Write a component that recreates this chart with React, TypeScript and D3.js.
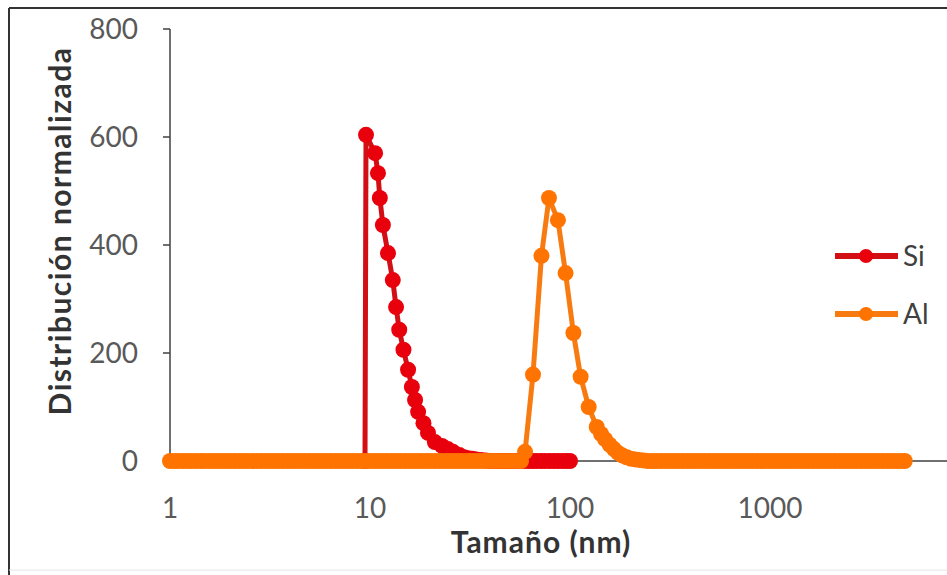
import React from "react";
import * as d3 from "d3";

// [size nm, normalized distribution]
const siData: [number, number][] = [
  [9.44, 0], [9.55, 604], [10.6, 570], [10.96, 533], [11.2, 487], [11.6, 437], [12.3, 385], [13.0, 335],
  [13.5, 285], [14.0, 243], [14.7, 206], [15.5, 169], [16.2, 137], [16.8, 113], [17.4, 91], [18.5, 70],
  [19.5, 52], [21.1, 35], [22.9, 28], [24.5, 22], [26, 17], [28, 11], [29.5, 7], [31, 5], [32.5, 4],
  [34, 3], [36, 2], [38, 1], [40, 0], [42, 0], [44, 0], [46, 0], [48.5, 0], [51, 0], [53.5, 0], [56, 0],
  [59, 0], [62, 0], [65, 0], [68, 0], [71.5, 0], [75, 0], [79, 0], [83, 0], [87, 0], [91.5, 0], [96, 0], [100, 0],
];

const alData: [number, number][] = [
  [1, 0], [1.05, 0], [1.1, 0], [1.16, 0], [1.22, 0], [1.28, 0], [1.35, 0], [1.42, 0], [1.49, 0], [1.57, 0],
  [1.65, 0], [1.73, 0], [1.82, 0], [1.91, 0], [2.01, 0], [2.11, 0], [2.22, 0], [2.33, 0], [2.45, 0], [2.58, 0],
  [2.71, 0], [2.85, 0], [3.0, 0], [3.15, 0], [3.31, 0], [3.48, 0], [3.66, 0], [3.85, 0], [4.05, 0], [4.26, 0],
  [4.48, 0], [4.71, 0], [4.95, 0], [5.2, 0], [5.47, 0], [5.75, 0], [6.05, 0], [6.36, 0], [6.69, 0], [7.03, 0],
  [7.39, 0], [7.77, 0], [8.17, 0], [8.59, 0], [9.03, 0], [9.5, 0], [9.99, 0], [10.5, 0], [11.04, 0], [11.6, 0],
  [12.2, 0], [12.83, 0], [13.49, 0], [14.18, 0], [14.91, 0], [15.68, 0], [16.48, 0], [17.33, 0], [18.22, 0],
  [19.16, 0], [20.14, 0], [21.18, 0], [22.26, 0], [23.41, 0], [24.61, 0], [25.88, 0], [27.21, 0], [28.6, 0],
  [30.07, 0], [31.62, 0], [33.25, 0], [34.96, 0], [36.75, 0], [38.64, 0], [40.63, 0], [42.72, 0], [44.91, 0],
  [47.22, 0], [49.65, 0], [52.2, 0], [54.89, 0], [56.9, 0],
  [59.6, 17], [65.3, 160], [72, 380], [78.5, 487], [87, 446], [95, 348], [104, 237], [113, 156], [124, 100],
  [136, 63], [143, 50], [150, 40], [158, 30], [166, 22], [174, 15], [183, 10], [192, 7], [202, 4], [212, 3],
  [222, 2], [233, 1],
  [245, 0], [258, 0], [271, 0], [285, 0], [300, 0], [315, 0], [331, 0], [348, 0], [366, 0], [385, 0], [405, 0],
  [426, 0], [448, 0], [471, 0], [495, 0], [520, 0], [547, 0], [575, 0], [605, 0], [636, 0], [668, 0], [703, 0],
  [739, 0], [777, 0], [817, 0], [859, 0], [903, 0], [949, 0], [998, 0], [1049, 0], [1103, 0], [1160, 0],
  [1220, 0], [1282, 0], [1348, 0], [1418, 0], [1490, 0], [1567, 0], [1648, 0], [1732, 0], [1821, 0], [1915, 0],
  [2013, 0], [2117, 0], [2226, 0], [2340, 0], [2460, 0], [2587, 0], [2720, 0], [2860, 0], [3006, 0], [3161, 0],
  [3323, 0], [3494, 0], [3674, 0], [3862, 0], [4061, 0], [4270, 0], [4489, 0], [4720, 0],
];

const xTicks = [1, 10, 100, 1000];
const xTickLabels = ["1", "10", "100", "1000"];
const yTicks = [0, 200, 400, 600, 800];
const seriesNames = ["Si", "Al"];

const FONT = "Lato, 'Open Sans', sans-serif";

export default function App() {
  const x = d3.scaleLog().domain([1, 10000]).range([170, 970]);
  const y = d3.scaleLinear().domain([0, 800]).range([461, 29]);

  const line = d3
    .line<[number, number]>()
    .x((d) => x(d[0]))
    .y((d) => y(d[1]));

  const series = [
    { name: seriesNames[0], data: siData, stroke: "#d20f14", fill: "#e8000c", r: 8, w: 5 },
    { name: seriesNames[1], data: alData, stroke: "#f77b10", fill: "#ff7400", r: 8, w: 5 },
  ];
  const legendY = [256, 314];

  return (
    <svg
      width={947}
      height={575}
      style={{ position: "absolute", left: 0, top: 0, background: "#fff" }}
      fontFamily={FONT}
    >
      <rect x={0} y={0} width={947} height={575} fill="#fff" />
      <line x1={9} y1={8} x2={9} y2={575} stroke="#333" strokeWidth={2} />
      <line x1={9} y1={8} x2={947} y2={8} stroke="#333" strokeWidth={2} />
      <line x1={9} y1={570} x2={947} y2={570} stroke="#e6e6e6" strokeWidth={1} />

      <line x1={x(1)} y1={y(0)} x2={x(10000)} y2={y(0)} stroke="#404040" strokeWidth={1.5} />
      {xTicks.map((t, i) => (
        <g key={"xt" + i}>
          <line x1={x(t)} x2={x(t)} y1={y(0)} y2={y(0) + 7} stroke="#404040" strokeWidth={1.5} />
          <text x={x(t)} y={518} textAnchor="middle" fontSize={28} fill="#595959">
            {xTickLabels[i]}
          </text>
        </g>
      ))}
      <line x1={x(1)} y1={y(800)} x2={x(1)} y2={y(0)} stroke="#404040" strokeWidth={1.5} />
      {yTicks.map((t) => (
        <g key={"yt" + t}>
          <line x1={x(1) - 7} x2={x(1)} y1={y(t)} y2={y(t)} stroke="#404040" strokeWidth={1.5} />
          <text x={138} y={y(t)} dy="0.35em" textAnchor="end" fontSize={28} fill="#595959">
            {t}
          </text>
        </g>
      ))}

      <text
        transform={`translate(71,231) rotate(-90)`}
        textAnchor="middle"
        fontSize={30}
        letterSpacing={1.5}
        fontWeight="bold"
        fill="#333"
      >
        Distribución normalizada
      </text>
      <text x={541} y={553} textAnchor="middle" fontSize={30} letterSpacing={1} fontWeight="bold" fill="#333">
        Tamaño (nm)
      </text>

      {series.map((s) => (
        <g key={s.name}>
          <path d={line(s.data) || ""} fill="none" stroke={s.stroke} strokeWidth={s.w} strokeLinejoin="round" />
          {s.data.map((d, i) => (
            <circle key={i} cx={x(d[0])} cy={y(d[1])} r={s.r} fill={s.fill} />
          ))}
        </g>
      ))}

      {series.map((s, i) => (
        <g key={"lg" + s.name}>
          <line x1={835} x2={898} y1={legendY[i]} y2={legendY[i]} stroke={s.stroke} strokeWidth={6} />
          <circle cx={866} cy={legendY[i]} r={7} fill={s.fill} />
          <text x={903} y={legendY[i]} dy="0.35em" fontSize={28} fill="#404040">
            {s.name}
          </text>
        </g>
      ))}
    </svg>
  );
}
